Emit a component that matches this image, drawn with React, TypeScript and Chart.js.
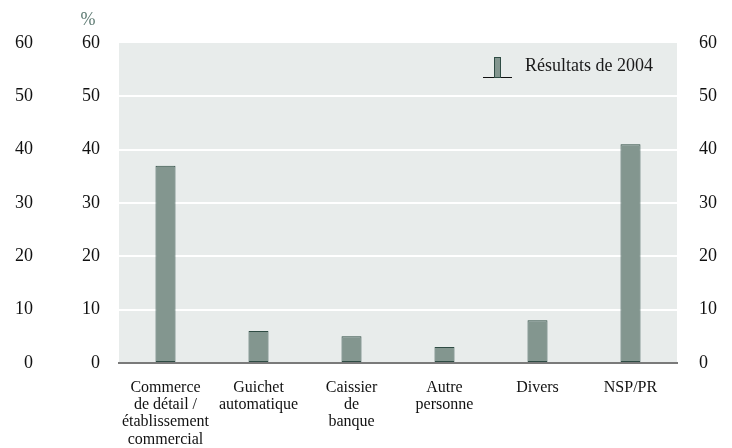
import { useEffect, useRef } from "react";
import { Chart, registerables } from "chart.js";

Chart.register(...registerables);

const categories: string[][] = [
  ["Commerce", "de détail /", "établissement", "commercial"],
  ["Guichet", "automatique"],
  ["Caissier", "de", "banque"],
  ["Autre", "personne"],
  ["Divers"],
  ["NSP/PR"],
];
const values2004 = [37, 6, 5, 3, 8, 41];
const seriesLabel = "Résultats de 2004";
const yMin = 0;
const yMax = 60;
const yStep = 10;
const unitLabel = "%";

const FONT = '"Liberation Serif", "Times New Roman", serif';
const BAR_FILL = "#83968f";
const BAR_BORDER = "#2f4c44";
const PLOT_BG = "#e8eceb";

const bgPlugin = {
  id: "plotBg",
  beforeDraw(chart: any) {
    const { ctx, chartArea } = chart;
    ctx.save();
    ctx.fillStyle = PLOT_BG;
    ctx.fillRect(chartArea.left, chartArea.top, chartArea.right - chartArea.left, chartArea.bottom - chartArea.top);
    ctx.restore();
  },
};

const overlayPlugin = {
  id: "overlay",
  afterDraw(chart: any) {
    const { ctx, chartArea } = chart;
    const ds = chart.data.datasets[0];
    ctx.save();
    ctx.font = `18px ${FONT}`;
    ctx.fillStyle = "#5d7a72";
    ctx.textAlign = "center";
    ctx.textBaseline = "middle";
    ctx.fillText(unitLabel, chartArea.left - 31, chartArea.top - 23);
    const lx = chartArea.right - 194;
    const ly = chartArea.top + 34;
    ctx.strokeStyle = "#111";
    ctx.lineWidth = 1;
    ctx.beginPath();
    ctx.moveTo(lx, ly + 0.5);
    ctx.lineTo(lx + 29, ly + 0.5);
    ctx.stroke();
    ctx.fillStyle = ds.backgroundColor;
    ctx.fillRect(lx + 11, ly - 20, 6, 20);
    ctx.strokeStyle = ds.borderColor;
    ctx.strokeRect(lx + 11.5, ly - 19.5, 6, 20);
    ctx.font = `18px ${FONT}`;
    ctx.fillStyle = "#1a1a1a";
    ctx.textAlign = "left";
    ctx.textBaseline = "middle";
    ctx.fillText(ds.label, lx + 42, ly - 11);
    ctx.restore();
  },
};

export default function App() {
  const ref = useRef<HTMLCanvasElement | null>(null);
  useEffect(() => {
    document.body.style.margin = "0";
    if (!ref.current) return;
    const tickFont = { family: FONT, size: 18 };
    const chart = new Chart(ref.current, {
      type: "bar",
      data: {
        labels: categories,
        datasets: [
          {
            label: seriesLabel,
            data: values2004,
            backgroundColor: BAR_FILL,
            borderColor: BAR_BORDER,
            borderWidth: 1,
            borderSkipped: false,
            barPercentage: 0.215,
            categoryPercentage: 1,
          },
        ],
      },
      options: {
        responsive: false,
        animation: false,
        layout: { padding: { top: 43, left: 0, right: 0, bottom: 0 } },
        plugins: {
          legend: { display: false },
          tooltip: { enabled: false },
        },
        scales: {
          x: {
            grid: { display: false, drawTicks: false },
            border: { display: true, color: "#7a7a7a", width: 2 },
            ticks: {
              font: { family: FONT, size: 16, lineHeight: 1.08 },
              color: "#111",
              padding: 16,
              maxRotation: 0,
              autoSkip: false,
            },
            afterFit: (s: any) => {
              s.height = 85;
            },
          },
          y: {
            position: "left",
            weight: 0,
            min: yMin,
            max: yMax,
            grid: {
              color: (c: any) => (c.tick && (c.tick.value === yMin || c.tick.value === yMax) ? "rgba(0,0,0,0)" : "#ffffff"),
              lineWidth: 2,
              drawTicks: false,
            },
            border: { display: false },
            ticks: { stepSize: yStep, font: tickFont, color: "#111", padding: 19 },
            afterFit: (s: any) => {
              s.width = 79;
            },
          },
          yOuter: {
            position: "left",
            weight: 10,
            min: yMin,
            max: yMax,
            grid: { display: false, drawTicks: false },
            border: { display: false },
            ticks: { stepSize: yStep, font: tickFont, color: "#111", padding: 7 },
            afterFit: (s: any) => {
              s.width = 40;
            },
          },
          yRight: {
            position: "right",
            min: yMin,
            max: yMax,
            grid: { display: false, drawTicks: false },
            border: { display: false },
            ticks: { stepSize: yStep, font: tickFont, color: "#111", padding: 22 },
            afterFit: (s: any) => {
              s.width = 55;
            },
          },
        },
      },
      plugins: [bgPlugin, overlayPlugin],
    });
    return () => chart.destroy();
  }, []);
  return <canvas ref={ref} width={732} height={448} style={{ display: "block" }} />;
}
